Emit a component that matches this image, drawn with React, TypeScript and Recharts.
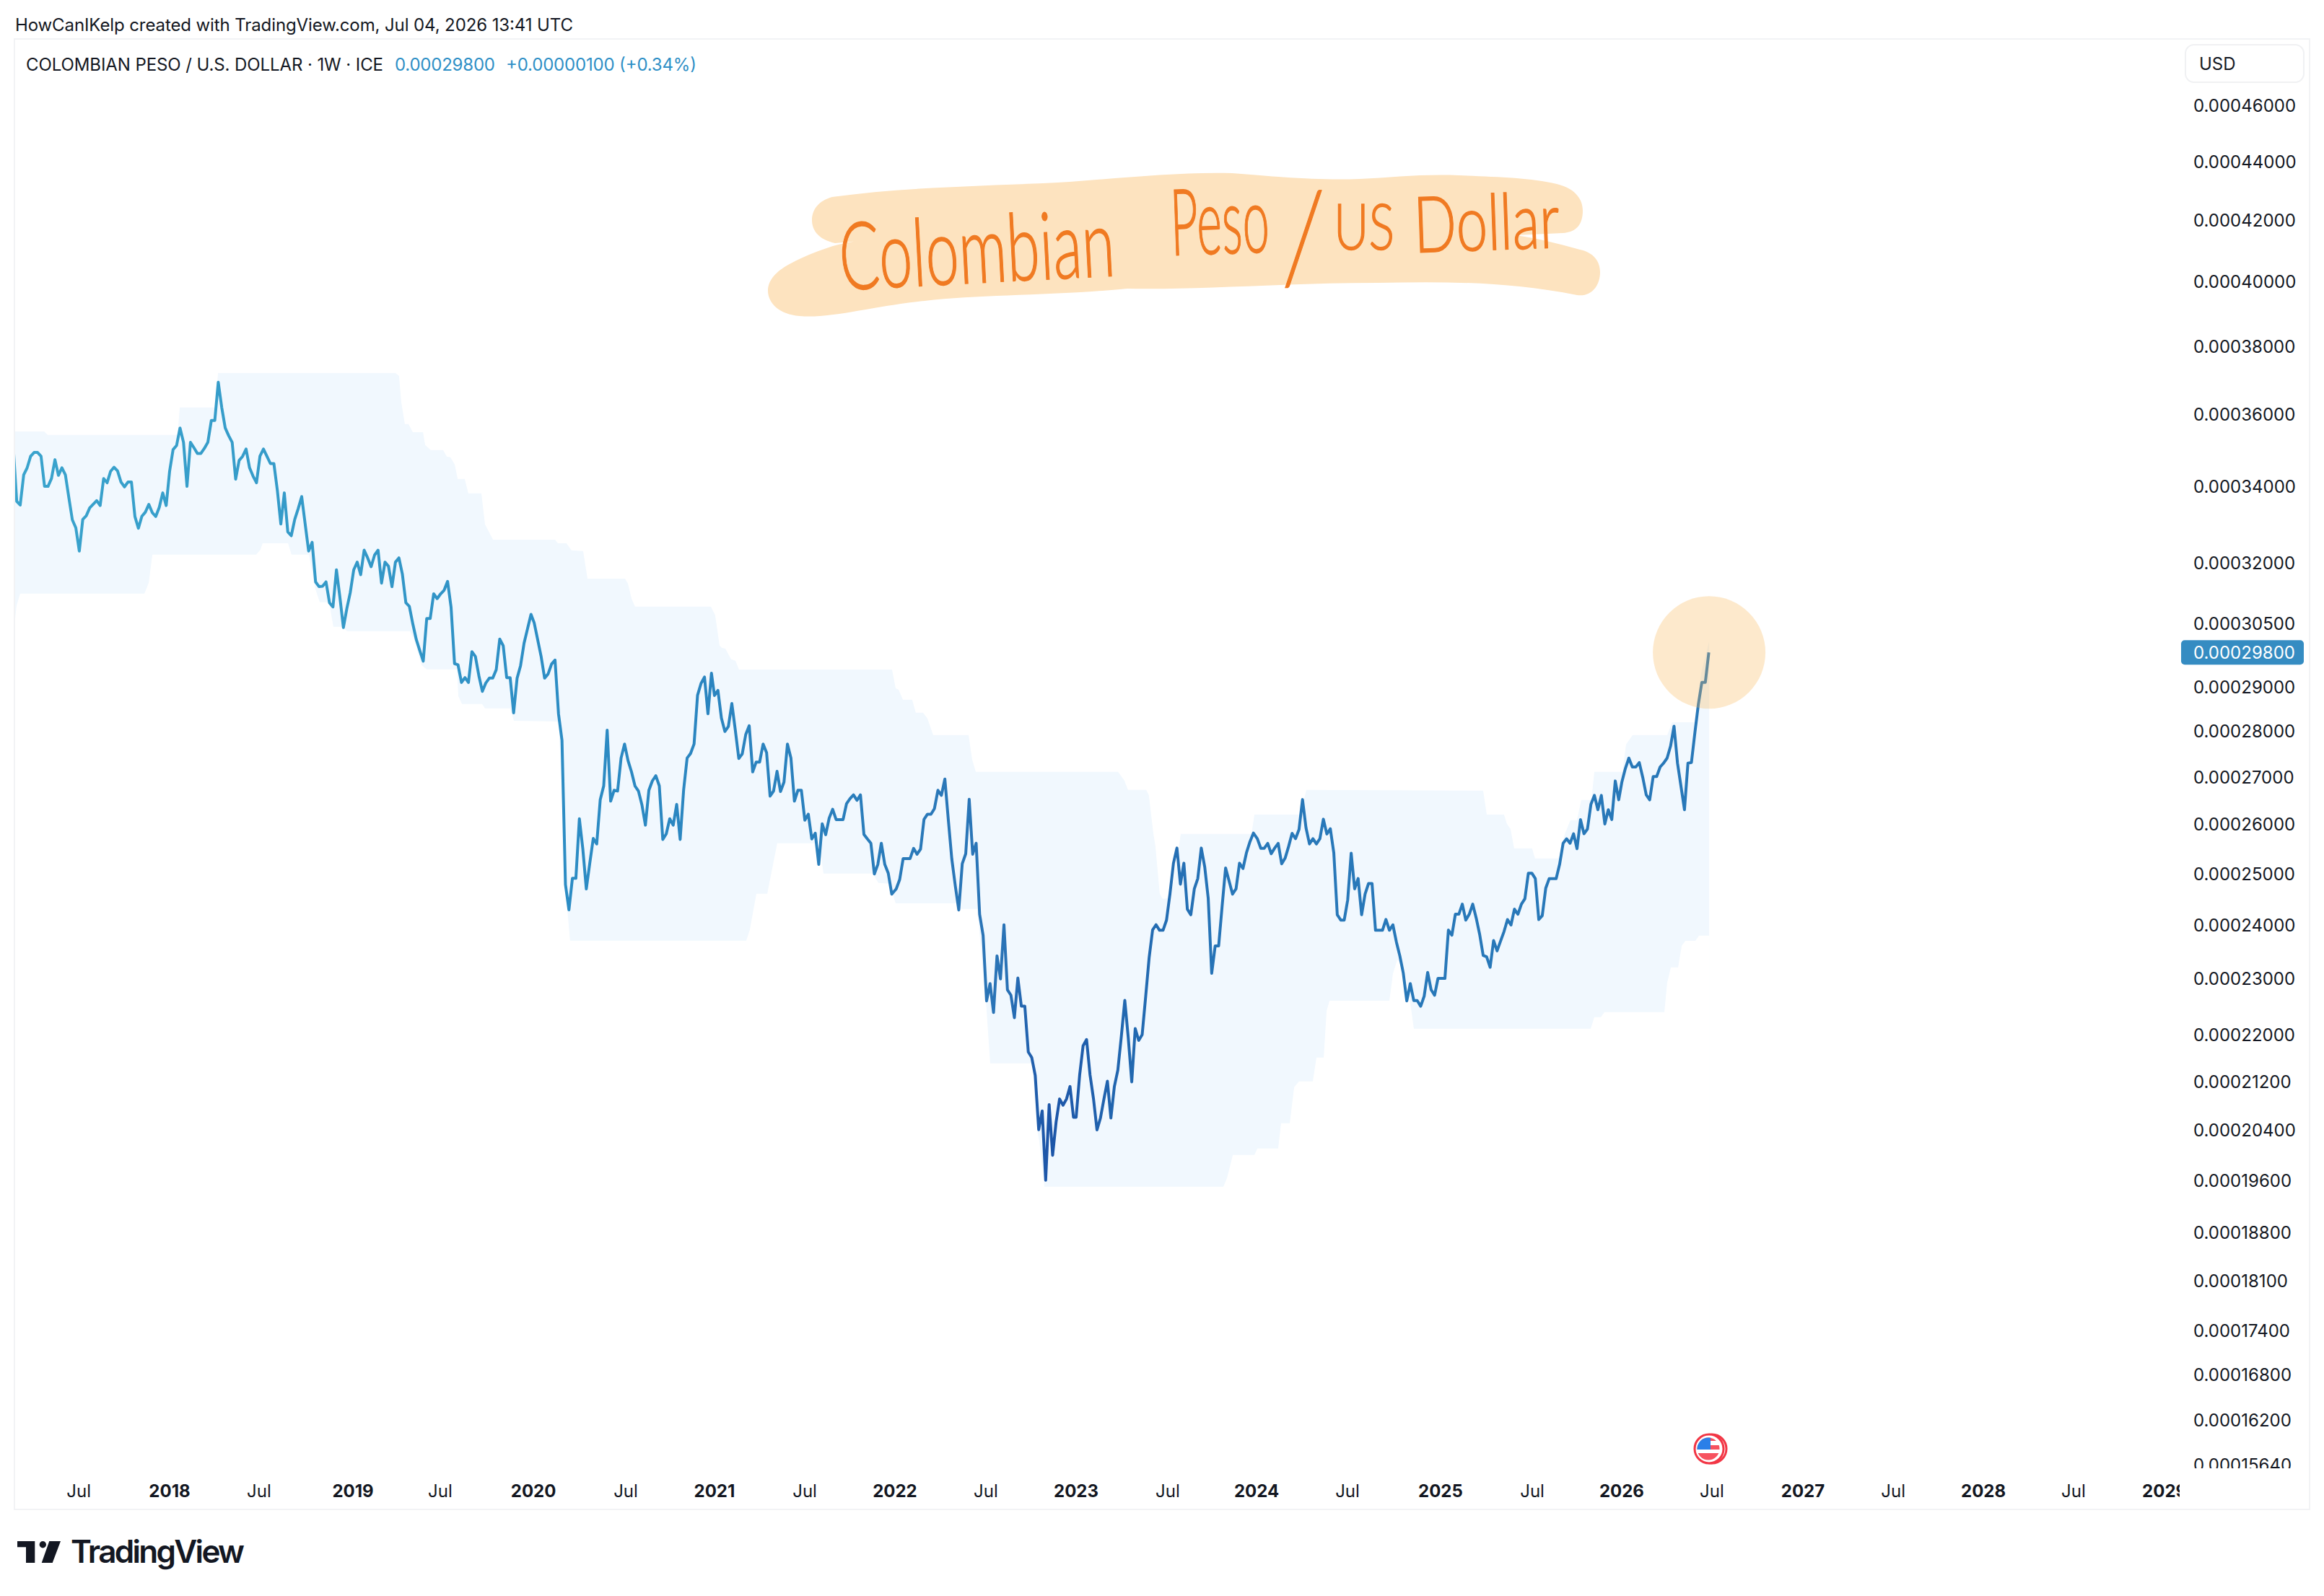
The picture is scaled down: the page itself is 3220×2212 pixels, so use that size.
import { Area, ComposedChart, Line, ReferenceDot, XAxis, YAxis } from 'recharts';

// weekly closes in 1e-8 USD, one list per calendar year
const closes2017 = [35100, 33597, 33500, 34312, 34507, 34821, 34928, 34928, 34821, 34000, 34000, 34214, 34728, 34299, 34507, 34312, 33695, 33108, 32900, 32297, 33121, 33216, 33424, 33519, 33617, 33487, 34214, 34098, 34409, 34521, 34422, 34117, 33987, 34117, 34117, 33197, 32888, 33203, 33311, 33519, 33298, 33197, 33437, 33825, 33487];
const closes2018 = [34409, 35008, 35120, 35613, 35209, 34000, 35209, 35060, 34901, 34901, 35042, 35209, 35825, 35825, 36930, 36197, 35613, 35396, 35209, 34195, 34708, 34821, 35022, 34507, 34279, 34098, 34828, 35022, 34821, 34621, 34621, 33889, 33000, 33825, 32794, 32693, 33121, 33405, 33727, 33000, 32297, 32523, 31517, 31398, 31410, 31517, 30999, 30898, 31820, 31130, 30396, 30862];
const closes2019 = [31249, 31820, 32015, 31697, 32321, 32124, 31899, 32197, 32321, 31487, 32015, 31911, 31398, 32015, 32124, 31709, 30999, 30910, 30482, 30106, 29847, 29594, 30615, 30615, 31220, 31100, 31220, 31309, 31529, 30892, 29537, 29509, 29098, 29211, 29098, 29819, 29706, 29256, 28894, 29087, 29199, 29199, 29396, 30118, 29962, 29211, 29211, 28403, 29199, 29492, 30020, 30367, 30714];
const closes2020 = [30511, 30106, 29706, 29199, 29295, 29526, 29620, 28385, 27793, 24785, 24293, 24909, 24909, 26114, 25494, 24700, 25212, 25709, 25597, 26509, 26804, 28016, 26483, 26712, 26695, 27404, 27711, 27350, 27105, 26804, 26695, 26404, 25982, 26712, 26912, 27023, 26804, 25689, 25802, 26114, 25982, 26414, 25689, 26722, 27404, 27504, 27711, 28804, 29075, 29224, 28385, 29313];
const closes2021 = [28798, 28915, 28287, 27988, 28100, 28617, 28016, 27393, 27497, 27921, 28117, 27105, 27317, 27317, 27711, 27519, 26588, 26695, 27116, 26684, 26885, 27711, 27404, 26483, 26712, 26712, 26086, 26209, 25699, 25817, 25184, 26010, 25786, 26128, 26312, 26097, 26097, 26097, 26430, 26536, 26615, 26499, 26615, 25792, 25699, 25612, 24994, 25184, 25612, 25184, 25009, 24598];
const closes2022 = [24700, 24884, 25302, 25302, 25302, 25507, 25389, 25491, 26102, 26209, 26209, 26325, 26712, 26604, 26951, 26086, 25289, 24760, 24290, 25199, 25399, 26520, 25389, 25612, 24206, 23806, 22599, 22911, 22391, 23420, 22996, 24006, 22798, 22702, 22299, 23013, 22503, 22503, 21700, 21604, 21299, 20403, 20708, 19600, 20812, 19992, 20528, 20906, 20802, 20906, 21114, 20604];
const closes2023 = [20604, 21299, 21807, 21916, 21310, 20906, 20398, 20593, 20906, 21203, 20593, 21114, 21390, 21970, 22607, 21944, 21192, 22107, 21900, 22002, 22673, 23385, 23908, 24006, 23902, 23902, 24095, 24603, 25209, 25514, 24793, 25209, 24305, 24198, 24701, 24905, 25514, 25133, 24517, 23100, 23606, 23606, 24364, 25115, 24856, 24598, 24701, 25209, 25103, 25418, 25642, 25819];
const closes2024 = [25705, 25509, 25509, 25610, 25399, 25514, 25610, 25197, 25311, 25547, 25813, 25705, 25895, 26516, 25928, 25597, 25705, 25597, 25705, 26105, 25800, 25908, 25418, 24198, 24096, 24096, 24485, 25411, 24701, 24905, 24198, 24598, 24807, 24807, 23902, 23902, 23902, 24107, 23902, 24006, 23682, 23420, 23100, 22599, 22911, 22605, 22605, 22503, 22684, 23115, 22799, 22700];
const closes2025 = [23006, 23006, 23006, 23906, 23809, 24208, 24208, 24402, 24095, 24208, 24402, 24134, 23821, 23431, 23403, 23209, 23708, 23514, 23697, 23878, 24106, 24003, 24306, 24208, 24402, 24507, 25010, 25010, 24903, 24106, 24180, 24714, 24903, 24903, 24903, 25188, 25611, 25702, 25611, 25805, 25502, 26097, 25805, 25902, 26415, 26603, 26302, 26603, 26006, 26302, 26097, 26910, 26510];
const closes2026 = [26890, 27178, 27402, 27210, 27210, 27306, 26986, 26616, 26510, 27005, 27005, 27210, 27293, 27402, 27665, 28107, 27293, 26794, 26302, 27293, 27306, 27962, 28601, 29100, 29100, 29800];

const yearStarts = [2017.138, 2018.0, 2018.996, 2020.01, 2021.004, 2022.006, 2022.998, 2023.997, 2024.993, 2026.007];
const yearCloses = [closes2017, closes2018, closes2019, closes2020, closes2021, closes2022, closes2023, closes2024, closes2025, closes2026];

// channel outline
const upperDates = [2017.1445, 2017.308, 2017.328, 2018.044, 2018.056, 2018.251, 2018.267, 2019.245, 2019.265, 2019.277, 2019.297, 2019.317, 2019.341, 2019.397, 2019.409, 2019.44, 2019.508, 2019.528, 2019.548, 2019.572, 2019.588, 2019.627, 2019.647, 2019.719, 2019.739, 2019.783, 2020.125, 2020.141, 2020.188, 2020.216, 2020.28, 2020.304, 2020.511, 2020.527, 2020.547, 2020.566, 2020.984, 2021.008, 2021.032, 2021.044, 2021.064, 2021.096, 2021.12, 2021.139, 2021.983, 2022.003, 2022.019, 2022.043, 2022.094, 2022.114, 2022.154, 2022.178, 2022.21, 2022.405, 2022.425, 2022.445, 2023.229, 2023.264, 2023.284, 2023.384, 2023.399, 2023.423, 2023.435, 2023.459, 2023.475, 2023.519, 2023.575, 2023.965, 2023.981, 2024.235, 2024.267, 2025.242, 2025.262, 2025.357, 2025.373, 2025.393, 2025.413, 2025.512, 2025.528, 2025.66, 2025.691, 2025.723, 2025.759, 2025.783, 2025.839, 2025.855, 2026.01, 2026.03, 2026.066, 2026.257, 2026.284, 2026.408, 2026.444, 2026.488];
const upperValues = [35517, 35517, 35416, 35416, 36197, 36197, 37204, 37204, 37119, 36362, 35723, 35723, 35497, 35497, 35136, 34994, 34994, 34814, 34794, 34594, 34201, 34201, 33812, 33812, 32990, 32592, 32592, 32498, 32498, 32315, 32300, 31600, 31600, 31475, 31100, 30904, 30904, 30691, 29962, 29910, 29892, 29637, 29603, 29400, 29400, 28965, 28933, 28703, 28703, 28409, 28409, 28278, 27909, 27909, 27368, 27105, 27105, 26920, 26719, 26719, 26611, 25831, 25553, 24605, 24505, 24519, 25802, 25802, 26200, 26200, 26719, 26703, 26200, 26200, 26009, 25904, 25509, 25509, 25304, 25304, 25787, 26084, 26084, 26506, 26506, 27105, 27105, 27703, 27909, 27909, 28196, 28196, 29317, 30064];
const lowerDates = [2017.1445, 2017.156, 2017.176, 2017.861, 2017.885, 2017.905, 2018.477, 2018.501, 2018.513, 2018.653, 2018.672, 2018.768, 2018.804, 2018.828, 2018.879, 2018.903, 2018.951, 2018.979, 2019.325, 2019.349, 2019.389, 2019.417, 2019.584, 2019.592, 2019.612, 2019.723, 2019.739, 2019.878, 2019.898, 2020.145, 2020.192, 2020.208, 2021.179, 2021.199, 2021.235, 2021.295, 2021.35, 2021.581, 2021.605, 2021.876, 2021.908, 2021.967, 2022.003, 2022.345, 2022.353, 2022.453, 2022.504, 2022.524, 2022.755, 2022.783, 2022.795, 2022.823, 2023.81, 2023.83, 2023.862, 2023.981, 2023.997, 2024.112, 2024.128, 2024.176, 2024.2, 2024.227, 2024.303, 2024.323, 2024.363, 2024.379, 2024.395, 2024.725, 2024.745, 2024.769, 2024.812, 2024.84, 2024.86, 2025.835, 2025.855, 2025.891, 2025.911, 2026.241, 2026.257, 2026.277, 2026.317, 2026.337, 2026.357, 2026.412, 2026.432, 2026.488];
const lowerValues = [30447, 30922, 31224, 31224, 31493, 32204, 32204, 32333, 32499, 32499, 32204, 32204, 31332, 31011, 31011, 30412, 30412, 30308, 30308, 30100, 29503, 29402, 29402, 28785, 28605, 28605, 28507, 28507, 28228, 28212, 24324, 23704, 23704, 23910, 24604, 24604, 25612, 25612, 25002, 25002, 24817, 24803, 24420, 24420, 24310, 24310, 22448, 21505, 21505, 20402, 20210, 19499, 19499, 19635, 19996, 19996, 20100, 20100, 20506, 20506, 21102, 21200, 21200, 21605, 21605, 22422, 22600, 22600, 23100, 23350, 23127, 22565, 22106, 22106, 22309, 22309, 22397, 22397, 22930, 23207, 23207, 23610, 23703, 23703, 23800, 23800];

const priceTicks = [46000, 44000, 42000, 40000, 38000, 36000, 34000, 32000, 30500, 29800, 29000, 28000, 27000, 26000, 25000, 24000, 23000, 22000, 21200, 20400, 19600, 18800, 18100, 17400, 16800, 16200, 15640];
// first bar of each labelled period
const timeTicks = [2017.499, 2018, 2018.493, 2019.011, 2019.492, 2020.006, 2020.515, 2021.004, 2021.502, 2021.999, 2022.5, 2022.998, 2023.503, 2023.993, 2024.494, 2025.007, 2025.513, 2026.006, 2026.503, 2027.005, 2027.503, 2028, 2028.497, 2028.999];
const timeLabels = ['Jul', '2018', 'Jul', '2019', 'Jul', '2020', 'Jul', '2021', 'Jul', '2022', 'Jul', '2023', 'Jul', '2024', 'Jul', '2025', 'Jul', '2026', 'Jul', '2027', 'Jul', '2028', 'Jul', '2029'];

const lastPrice = 29800;
const lastDate = 2026.488;

const FONT = 'Inter, sans-serif';
const INK = '#131722';

const closeData = yearCloses.flatMap((list, y) =>
  list.map((price, i) => ({ t: yearStarts[y] + i / 52.18, price }))
);
const upperData = upperDates.map((t, i) => ({ t, price: upperValues[i] }));
const lowerData = lowerDates.map((t, i) => ({ t, price: lowerValues[i] }));

const PriceTick = (props: any) => {
  const { y, payload } = props;
  const isLast = payload.value === lastPrice;
  return (
    <g clipPath="url(#priceClip)">
      {isLast && <rect x={3022} y={y - 17} width={170} height={34} rx={5} fill="#358cc2" />}
      <text x={3039} y={y + 9} fontFamily={FONT} fontSize={24} fill={isLast ? '#ffffff' : INK}>
        {(payload.value / 1e8).toFixed(8)}
      </text>
    </g>
  );
};

const TimeTick = (props: any) => {
  const { x, payload } = props;
  const label = timeLabels[timeTicks.indexOf(payload.value)];
  return (
    <g clipPath="url(#timeClip)">
      <text x={x} y={2075} textAnchor="middle" fontFamily={FONT} fontSize={24} fontWeight={label === 'Jul' ? 400 : 700} fill={INK}>
        {label}
      </text>
    </g>
  );
};

const Overlay = () => (
  <svg width={3220} height={2212} style={{ position: 'absolute', left: 0, top: 0, pointerEvents: 'none' }}>
    <defs>
      <clipPath id="priceClip"><rect x={3000} y={54} width={200} height={1981} /></clipPath>
      <clipPath id="timeClip"><rect x={20} y={2035} width={3000} height={57} /></clipPath>
      <linearGradient id="lineFade" gradientUnits="userSpaceOnUse" x1={0} y1={0} x2={2400} y2={0}>
        <stop offset="0" stopColor="#3aa4cd" />
        <stop offset="0.2" stopColor="#3499c8" />
        <stop offset="0.33" stopColor="#2c8cc4" />
        <stop offset="0.5" stopColor="#2a7dbb" />
        <stop offset="0.58" stopColor="#2a73b6" />
        <stop offset="0.605" stopColor="#1c55a8" />
        <stop offset="0.65" stopColor="#2268b0" />
        <stop offset="0.72" stopColor="#2878b9" />
        <stop offset="1" stopColor="#2878b8" />
      </linearGradient>
    </defs>

    <rect x={20} y={54} width={3180} height={2038} fill="none" stroke="#f2f3f5" strokeWidth={2} />

    <text x={21} y={43} fontFamily={FONT} fontSize={24} fill={INK} textLength={773}>
      HowCanIKelp created with TradingView.com, Jul 04, 2026 13:41 UTC
    </text>
    <text x={36} y={98} fontFamily={FONT} fontSize={24} fill={INK} textLength={495}>
      COLOMBIAN PESO / U.S. DOLLAR · 1W · ICE
    </text>
    <text x={547} y={98} fontFamily={FONT} fontSize={24} fill="#2e8fc6" textLength={139}>0.00029800</text>
    <text x={701} y={98} fontFamily={FONT} fontSize={24} fill="#2e8fc6" textLength={264}>+0.00000100 (+0.34%)</text>

    <rect x={3028} y={62} width={164} height={52} rx={12} fill="#ffffff" stroke="#f0f1f3" strokeWidth={2} />
    <text x={3047} y={97} fontFamily={FONT} fontSize={24} fill={INK}>USD</text>

    <path
      d="M1153 273 C1260 258 1380 258 1482 252 C1560 246 1640 238 1707 240 C1780 246 1830 250 1884 248 C1930 246 1970 241 2021 243 C2070 245 2120 246 2157 255 C2185 262 2193 278 2193 292 C2193 310 2185 322 2165 323 L2100 326 C2130 330 2160 338 2189 346 C2208 350 2217 362 2217 377 C2217 396 2205 412 2185 409 C2090 390 2000 390 1908 392 C1780 392 1660 402 1562 400 C1460 410 1360 408 1281 417 C1210 424 1150 442 1108 438 C1080 436 1064 420 1064 403 C1064 388 1076 376 1092 367 C1120 352 1160 336 1190 334 L1157 337 C1135 332 1125 320 1125 305 C1125 290 1135 278 1153 273 Z"
      fill="#fde3bf"
    />
    <g fontFamily="Lato, sans-serif" fontWeight={300} fill="#f07a22" stroke="#f07a22" strokeWidth={1.5}>
      <text transform="rotate(-3 1165 402)" x={1165} y={402} fontSize={130} textLength={382} lengthAdjust="spacingAndGlyphs">Colombian</text>
      <text transform="rotate(-2 1623 354)" x={1623} y={354} fontSize={128} textLength={137} lengthAdjust="spacingAndGlyphs">Peso</text>
      <text x={1780} y={392} fontSize={178} textLength={52} lengthAdjust="spacingAndGlyphs" transform="rotate(3 1800 330)">/</text>
      <text x={1848} y={346} fontSize={88} textLength={84} lengthAdjust="spacingAndGlyphs">US</text>
      <text transform="rotate(-2 1960 350)" x={1960} y={350} fontSize={108} textLength={202} lengthAdjust="spacingAndGlyphs">Dollar</text>
    </g>

    <g>
      <circle cx={2372} cy={2008} r={20} fill="#ffffff" stroke="#f23645" strokeWidth={3} />
      <circle cx={2368} cy={2008} r={20} fill="#ffffff" stroke="#f23645" strokeWidth={3} />
      <clipPath id="flagClip"><circle cx={2367} cy={2008} r={15.5} /></clipPath>
      <g clipPath="url(#flagClip)">
        <rect x={2350} y={1992} width={34} height={5} fill="#f7525f" />
        <rect x={2350} y={2003} width={34} height={6} fill="#f7525f" />
        <rect x={2350} y={2014} width={34} height={10} fill="#f7525f" />
        <rect x={2350} y={1992} width={20} height={17} fill="#2a7fe8" />
      </g>
    </g>

    <path d="M24 2136 H48.3 V2166 H36 V2144.3 H24 Z M68.3 2136 H84 L72.7 2166 H57.7 Z" fill="#131722" />
    <circle cx={59.3} cy={2140.7} r={4.7} fill="#131722" />
    <text x={98} y={2166} fontFamily={FONT} fontSize={44} fontWeight={600} fill="#131722" textLength={241}>TradingView</text>
  </svg>
);

export default function App() {
  return (
    <div style={{ position: 'absolute', left: 0, top: 0, width: 3220, height: 2212, background: '#ffffff', overflow: 'hidden' }}>
      <ComposedChart width={3220} height={2212} margin={{ top: 54, left: 20, right: 20, bottom: 120 }}>
        <XAxis
          dataKey="t"
          type="number"
          domain={[2017.1445, 2029.098]}
          allowDataOverflow
          ticks={timeTicks}
          interval={0}
          height={57}
          axisLine={false}
          tickLine={false}
          tick={<TimeTick />}
        />
        <YAxis
          type="number"
          scale="log"
          orientation="right"
          domain={[15593, 48500]}
          allowDataOverflow
          ticks={priceTicks}
          interval={0}
          width={176}
          axisLine={false}
          tickLine={false}
          tick={<PriceTick />}
        />
        <Area data={upperData} dataKey="price" type="linear" baseValue={15593} stroke="none" fill="#f1f8fe" fillOpacity={1} dot={false} activeDot={false} isAnimationActive={false} />
        <Area data={lowerData} dataKey="price" type="linear" baseValue={15593} stroke="none" fill="#ffffff" fillOpacity={1} dot={false} activeDot={false} isAnimationActive={false} />
        <ReferenceDot x={lastDate} y={lastPrice} r={78} fill="#f8b655" fillOpacity={0.3} stroke="none" />
        <Line data={closeData} dataKey="price" type="linear" stroke="url(#lineFade)" strokeWidth={4} strokeLinejoin="round" dot={false} activeDot={false} isAnimationActive={false} />
      </ComposedChart>
      <Overlay />
    </div>
  );
}
